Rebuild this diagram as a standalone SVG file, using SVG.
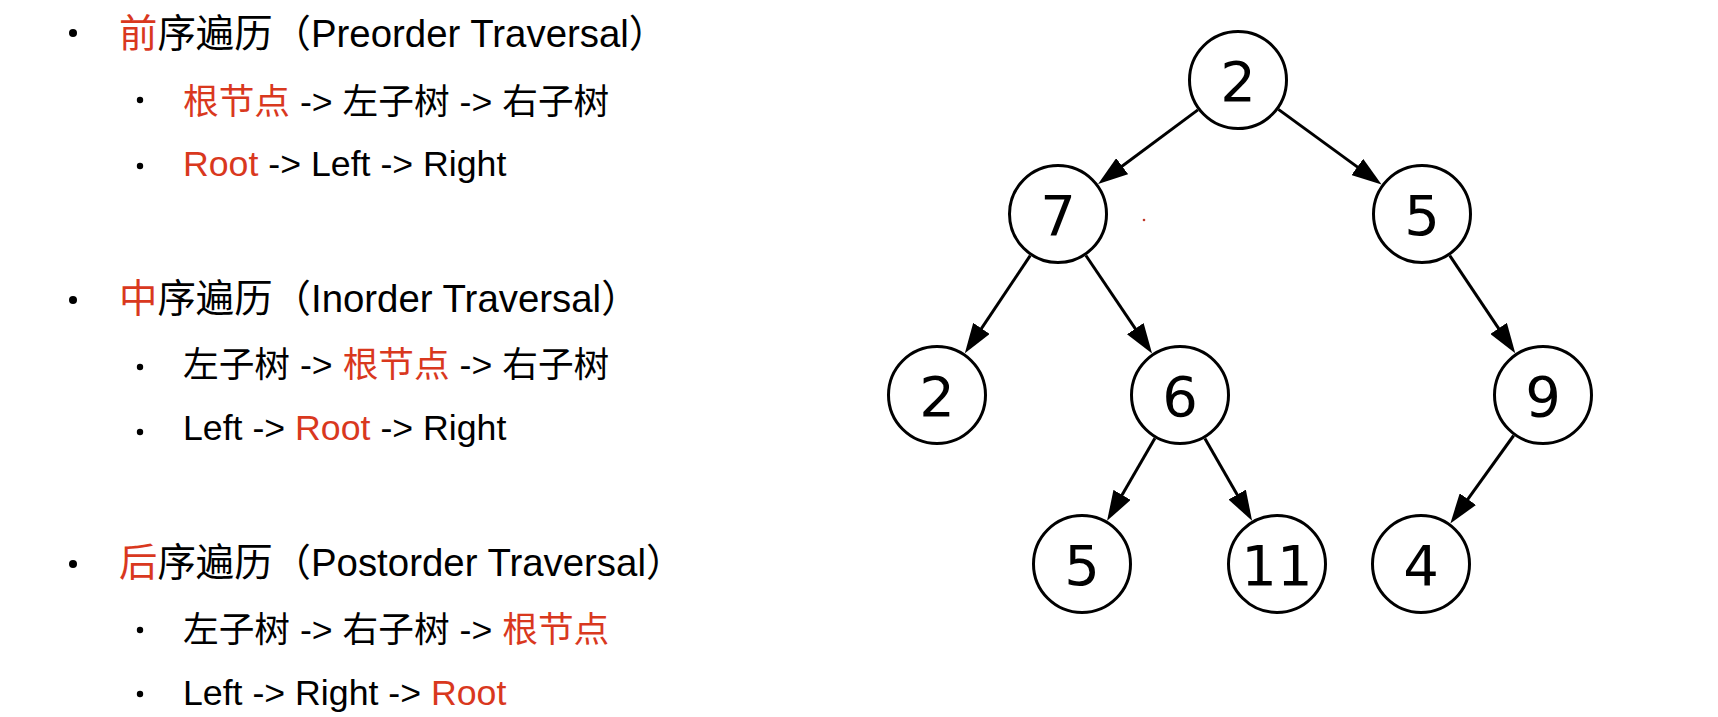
<svg xmlns="http://www.w3.org/2000/svg" width="1718" height="717" viewBox="0 0 1718 717">
<defs>
<style>
.h{font-family:"Liberation Sans","Noto Sans CJK SC",sans-serif;font-size:38.4px;fill:#000}
.s{font-family:"Liberation Sans","Noto Sans CJK SC",sans-serif;font-size:35.7px;fill:#000}
.r{fill:#D9381E}
.b{fill:#000}
.node circle{fill:#fff;stroke:#000;stroke-width:3}
.node text{font-family:"DejaVu Sans",sans-serif;font-size:56px;fill:#000;text-anchor:middle}
.edge{stroke:#000;stroke-width:3;fill:none;marker-end:url(#arr)}
</style>
<marker id="arr" markerUnits="userSpaceOnUse" viewBox="0 0 30 20" markerWidth="30" markerHeight="20" refX="22" refY="10" orient="auto">
<path d="M0,0 L30,10 L0,20 z" fill="#000"/>
</marker>
</defs>
<rect width="1718" height="717" fill="#fff"/>
<g id="text">
<circle class="b" cx="73" cy="33" r="4"/>
<text class="h" x="119" y="47"><tspan class="r">前</tspan>序遍历（Preorder Traversal）</text>
<circle class="b" cx="140" cy="100" r="3.2"/>
<text class="s" x="183" y="114"><tspan class="r">根节点</tspan> -&gt; 左子树 -&gt; 右子树</text>
<circle class="b" cx="140" cy="166" r="3.2"/>
<text class="s" x="183" y="176"><tspan class="r">Root</tspan> -&gt; Left -&gt; Right</text>

<circle class="b" cx="73" cy="300" r="4"/>
<text class="h" x="119" y="312"><tspan class="r">中</tspan>序遍历（Inorder Traversal）</text>
<circle class="b" cx="140" cy="367" r="3.2"/>
<text class="s" x="183" y="377">左子树 -&gt; <tspan class="r">根节点</tspan> -&gt; 右子树</text>
<circle class="b" cx="140" cy="432" r="3.2"/>
<text class="s" x="183" y="440">Left -&gt; <tspan class="r">Root</tspan> -&gt; Right</text>

<circle class="b" cx="73" cy="564" r="4"/>
<text class="h" x="119" y="576"><tspan class="r">后</tspan>序遍历（Postorder Traversal）</text>
<circle class="b" cx="140" cy="630" r="3.2"/>
<text class="s" x="183" y="642">左子树 -&gt; 右子树 -&gt; <tspan class="r">根节点</tspan></text>
<circle class="b" cx="140" cy="694" r="3.2"/>
<text class="s" x="183" y="705">Left -&gt; Right -&gt; <tspan class="r">Root</tspan></text>
</g>
<g id="edges">
<line class="edge" x1="1197.9" y1="109.9" x2="1104.5" y2="179.3"/>
<line class="edge" x1="1278.4" y1="109.4" x2="1375.1" y2="179.9"/>
<line class="edge" x1="1030.2" y1="255.6" x2="969.3" y2="346.7"/>
<line class="edge" x1="1085.9" y1="255.5" x2="1147.6" y2="346.9"/>
<line class="edge" x1="1449.8" y1="255.6" x2="1510.8" y2="346.7"/>
<line class="edge" x1="1154.9" y1="438.3" x2="1111.1" y2="513.9"/>
<line class="edge" x1="1204.9" y1="438.4" x2="1248.1" y2="513.7"/>
<line class="edge" x1="1513.7" y1="435.5" x2="1455.0" y2="517.0"/>
</g>
<g id="n_root" class="node"><circle cx="1238" cy="80" r="48.5"/><text x="1238" y="100.5">2</text></g>
<g id="n_7" class="node"><circle cx="1058" cy="214" r="48.5"/><text x="1058" y="234.5">7</text></g>
<g id="n_5" class="node"><circle cx="1422" cy="214" r="48.5"/><text x="1422" y="234.5">5</text></g>
<g id="n_2" class="node"><circle cx="937" cy="395" r="48.5"/><text x="937" y="415.5">2</text></g>
<g id="n_6" class="node"><circle cx="1180" cy="395" r="48.5"/><text x="1180" y="415.5">6</text></g>
<g id="n_9" class="node"><circle cx="1543" cy="395" r="48.5"/><text x="1543" y="415.5">9</text></g>
<g id="n_5b" class="node"><circle cx="1082" cy="564" r="48.5"/><text x="1082" y="584.5">5</text></g>
<g id="n_11" class="node"><circle cx="1277" cy="564" r="48.5"/><text x="1277" y="584.5">11</text></g>
<g id="n_4" class="node"><circle cx="1421" cy="564" r="48.5"/><text x="1421" y="584.5">4</text></g>
<circle cx="1144" cy="220" r="1.3" fill="#c0392b"/>
</svg>
